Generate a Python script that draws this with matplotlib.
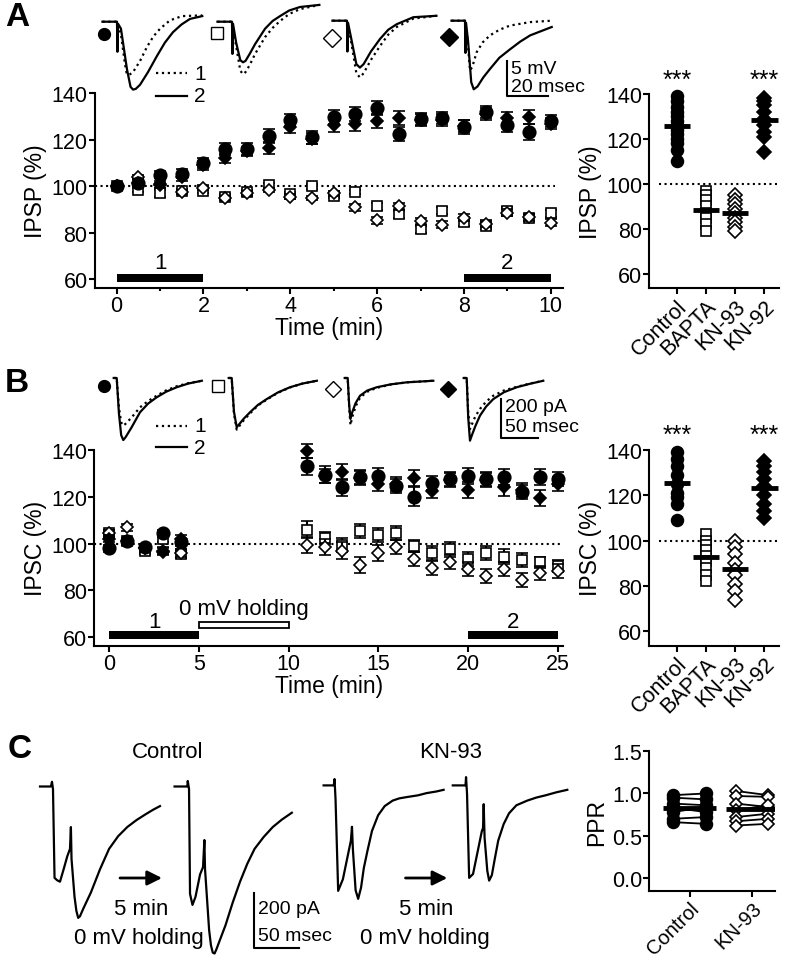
import numpy as np
import matplotlib
matplotlib.use("Agg")
import matplotlib.pyplot as plt
from matplotlib.ticker import MultipleLocator

plt.rcParams["font.family"] = ["Liberation Sans", "DejaVu Sans"]
plt.rcParams["font.size"] = 15
plt.rcParams["axes.linewidth"] = 1.5

# -------------------------------
# Data : panel A time course (IPSP, % of baseline)
# -------------------------------
time_a = [0, 0.5, 1, 1.5, 2, 2.5, 3, 3.5, 4, 4.5, 5,
          5.5, 6, 6.5, 7, 7.5, 8, 8.5, 9, 9.5, 10]
ipsp_control = [100, 101.5, 105, 105.5, 110, 116, 116, 121.5, 128.5, 121, 130,
                131, 133.5, 122.5, 129, 129.5, 125.5, 132, 126.5, 123.5, 128]
ipsp_control_sem = [1, 1.5, 1.5, 2, 2, 2.5, 2.5, 3, 2.5, 3, 3,
                    3, 3, 3, 2.5, 2.5, 3, 2.5, 3, 3.5, 2.5]
ipsp_kn92 = [100, 101.5, 101, 104, 109, 112, 115, 116.5, 125.5, 120.5, 126.5,
             127, 128, 129.5, 128.5, 128.5, 126, 131, 129.5, 130, 127]
ipsp_kn92_sem = [1, 1.5, 1.5, 1.5, 2, 2, 2, 2.5, 2.5, 2.5, 3,
                 3, 3, 3, 2.5, 2.5, 2.5, 2.5, 2.5, 3, 2.5]
ipsp_bapta = [100, 98.5, 97, 98, 98, 95.5, 97.5, 100.5, 96.5, 100, 96,
              97.5, 91.5, 88, 81.5, 89.5, 84.6, 83, 89.5, 86.5, 88.5]
ipsp_bapta_sem = [1, 1, 1.5, 1, 1, 1, 1, 1, 1, 1, 1,
                  1, 1.5, 1.5, 1.5, 1.5, 1.5, 1.5, 1.5, 1.5, 1.5]
ipsp_kn93 = [100, 104, 100.5, 97.5, 99.5, 95, 97, 98.5, 95.5, 95, 97,
             91, 85.5, 91.5, 85, 83.5, 86.5, 84, 88.7, 86.8, 84.3]
ipsp_kn93_sem = [1, 1, 1, 1, 1, 1, 1, 1, 1, 1, 1,
                 1.5, 1.5, 1.5, 1.5, 1.5, 1.5, 1.5, 1.5, 1.5, 1.5]

# -------------------------------
# Data : panel B time course (IPSC, % of baseline)
# -------------------------------
time_b = [0, 1, 2, 3, 4, 11, 12, 13, 14, 15, 16, 17, 18, 19, 20, 21, 22, 23, 24, 25]
ipsc_control = [98, 101, 98.5, 104.5, 100.5, 133, 129.5, 124, 128.5, 129,
                124.5, 120, 126, 127.5, 129, 127.5, 128.5, 122, 128.5, 127.5]
ipsc_control_sem = [1.5, 1.5, 1.5, 1.5, 1.5, 3.5, 3.5, 3.5, 3, 3.5,
                    3, 4, 3, 3, 3.5, 3, 3.5, 3, 3.5, 3]
ipsc_kn92 = [102, 101, 98, 97, 102, 139.5, 129, 130.5, 128, 125.5,
             125.5, 128, 122.5, 127, 123, 127, 124, 123, 119.5, 125.5]
ipsc_kn92_sem = [1.5, 1.5, 1.5, 1.5, 1.5, 3, 3, 3.5, 3, 3,
                 3, 3.5, 3, 3, 3.5, 3, 3.5, 3, 3.5, 3]
ipsc_bapta = [104.5, 101, 97, 102, 95.5, 106, 102.5, 99.5, 105.5, 103.5,
              104.5, 99, 96, 97.5, 93.5, 96, 94.5, 93, 92, 90.5]
ipsc_bapta_sem = [1.5, 1.5, 1.5, 1.5, 1.5, 3.5, 2.5, 3, 3, 3,
                  3, 2.5, 3, 3, 3, 3, 3, 3, 2.5, 2.5]
ipsc_kn93 = [104.5, 107, 98, 96.5, 96, 99.5, 98.5, 97, 91, 96,
             98.5, 93.5, 89.5, 92, 89, 86, 89, 84.5, 87.5, 88.5]
ipsc_kn93_sem = [1.5, 1.5, 1.5, 1.5, 1.5, 3.5, 3.5, 3.5, 3.5, 3.5,
                 3, 3, 3, 3, 3, 3, 3, 3, 3, 3]

# recording windows (min)
window_start_a = [0, 8]
window_len_a = [2, 2]
window_start_b = [0, 20]
window_len_b = [5, 5]
holding_start_b = 5
holding_len_b = 5
window_labels = ["1", "2"]

# -------------------------------
# Data : summary scatter (right column)
# -------------------------------
groups = ["Control", "BAPTA", "KN-93", "KN-92"]
ipsp_sum_control = [139, 137, 134, 132, 130, 128, 126, 124, 122, 120, 118, 115, 110]
ipsp_sum_bapta = [97, 95, 93, 90, 87, 85, 82, 79]
ipsp_sum_kn93 = [95, 93, 91, 89, 87, 85, 83, 81, 79]
ipsp_sum_kn92 = [138, 137, 135, 132, 129, 126, 123, 121, 114]

ipsc_sum_control = [139, 136, 133, 129, 125, 121, 119, 116, 109]
ipsc_sum_bapta = [103, 100, 98, 96, 93, 91, 88, 85, 82]
ipsc_sum_kn93 = [100, 97, 94, 90, 87, 85, 81, 78, 74]
ipsc_sum_kn92 = [135, 133, 130, 127, 124, 120, 116, 113, 110]

ppr_groups = ["Control", "KN-93"]
ppr_control_before = [0.98, 0.95, 0.88, 0.83, 0.78, 0.70, 0.66]
ppr_control_after = [1.00, 0.93, 0.86, 0.78, 0.84, 0.72, 0.64]
ppr_kn93_before = [1.03, 0.97, 0.88, 0.80, 0.72, 0.67, 0.62]
ppr_kn93_after = [0.98, 0.96, 0.84, 0.86, 0.76, 0.70, 0.64]

# -------------------------------
# Data : example traces (ms, mV or pA)
# -------------------------------
# panel A (mV)
a1_t1 = [-7, 0, 1.9, 3.8, 4.6, 5.3, 6.3, 7.7, 11.1, 14.4, 17.5, 20.7, 25.5, 31.3, 41]
a1_v1 = [0, 0, -1.8, -6.0, -7.3, -7.6, -7.5, -7.2, -5.6, -3.6, -2.1, -1.0, 0.2, 0.8, 0.9]
a1_t2 = [-7, 0, 0.2, 0.5, 1.9, 4.8, 6.5, 7.7, 9, 11.1, 14.9, 19.2, 23, 26.9, 31, 35.1, 41]
a1_v2 = [0, 0, -4.3, -0.3, -1.0, -6.8, -9.3, -9.7, -9.6, -9.0, -7.2, -4.9, -3.0, -1.5,
         -0.4, 0.4, 0.8]

a2_t1 = [-7, 0, 2, 4, 5.3, 6.5, 8.5, 11.1, 15.9, 19.5, 23.1, 27.5, 32.7, 42]
a2_v1 = [0, 0, -3.5, -7.0, -7.5, -7.2, -6.2, -4.6, -2.2, -0.9, 0.1, 1.1, 1.8, 2.4]
a2_t2 = [-7, 0, 0.2, 0.5, 2, 4, 5.3, 6.5, 8.5, 11.1, 15.9, 19.5, 23.1, 27.5, 32.7, 42]
a2_v2 = [0, 0, -4.6, -0.3, -3, -5.5, -5.8, -5.6, -4.6, -3.2, -1.0, 0.1, 0.8, 1.6, 2.1, 2.4]

a3_t1 = [-7, 0, 2, 4.5, 6.2, 8, 11.5, 15.9, 19.8, 23.9, 31.9, 43]
a3_v1 = [0, 0, -3, -7.5, -8.1, -7.5, -5.6, -3.6, -2.0, -0.9, 0.3, 0.7]
a3_t2 = [-7, 0, 0.2, 0.5, 2, 4.5, 6.2, 8, 11.5, 15.9, 19.8, 23.9, 31.9, 43]
a3_v2 = [0, 0, -4.4, -0.3, -2.5, -6.2, -6.7, -6.2, -4.4, -2.6, -1.3, -0.5, 0.5, 0.7]

a4_t1 = [-6.5, 0, 1, 2.4, 3.5, 5.6, 8.5, 12, 16.5, 21.6, 31.3, 41.7]
a4_v1 = [0, 0, -2, -7.1, -6.6, -4.5, -3.1, -2.1, -1.3, -0.7, -0.2, 0]
a4_t2 = [-6.5, 0, 0.2, 0.5, 1.5, 3, 4.2, 6, 8.8, 12, 16.5, 21.6, 26.5, 31.3, 41.7]
a4_v2 = [0, 0, -4.6, -0.3, -3, -8.8, -9.8, -9.4, -8.1, -6.9, -5.3, -4.1, -3.0, -2.1, -0.9]

# panel B (pA)
b1_t = [-4, 0, 3, 6, 8.8, 12, 20, 31.2, 42, 53.5, 66, 80.3, 96, 114]
b1_v1 = [0, 0, -150, -225, -242, -232, -200, -149, -117, -90, -63, -42, -26, -14]
b1_v2 = [0, 0, -180, -290, -315, -300, -250, -174, -130, -98, -70, -47, -28, -14]

b2_t = [-4, 0, 3, 6.7, 10, 16, 24.5, 35, 46.9, 62, 78, 95, 114]
b2_v1 = [0, 0, -180, -262, -245, -215, -180, -140, -110, -75, -48, -28, -14]
b2_v2 = [0, 0, -170, -250, -235, -207, -174, -137, -107, -73, -47, -28, -14]

b3_t = [-4, 0, 2, 3.7, 6, 10.5, 16.5, 26, 38.8, 58, 79, 114.6]
b3_v1 = [0, 0, -150, -239, -200, -145, -100, -70, -50, -33, -22, -14]
b3_v2 = [0, 0, -140, -208, -175, -128, -90, -64, -47, -32, -22, -14]

b4_t = [-4, 0, 2, 4.4, 7, 11.5, 17.8, 26, 35.6, 50, 66.9, 85, 102.5]
b4_v1 = [0, 0, -170, -259, -235, -195, -157, -120, -90, -63, -45, -28, -14]
b4_v2 = [0, 0, -200, -318, -290, -245, -191, -145, -107, -72, -47, -29, -14]

# panel C (pA)
c1_t = [-12, 0, 1.2, 2.3, 4, 7, 10, 14, 18, 21, 22, 22.7, 26, 28, 30, 32, 36, 44, 54,
        64, 74, 84, 94, 104, 112, 120]
c1_v = [0, 0, 17, -9, -331, -340, -345, -300, -253, -226, -147, -263, -400, -450,
        -476, -470, -440, -384, -300, -226, -180, -147, -122, -101, -85, -71]
c2_t = [-14, 0, 0.5, 1.9, 3, 5.7, 9, 14, 17.3, 18.8, 19.5, 24, 26, 28, 30, 32, 36, 42,
        50, 58, 66, 74, 84, 94, 104, 115]
c2_v = [0, 0, 20, -9, -389, -429, -400, -319, -292, -194, -299, -520, -575, -602, -605,
        -590, -555, -503, -420, -345, -280, -226, -183, -147, -120, -95]
c3_t = [-11.2, 0, 0.8, 1.9, 4.8, 10, 18.8, 20, 21, 24, 26.8, 30, 33, 36.9, 42, 48.8,
        56, 64.8, 72, 80.8, 92.6, 102, 112.9, 120.8]
c3_v = [0, 0, 23, -49, -382, -340, -200, -150, -232, -380, -411, -370, -300, -239,
        -165, -108, -75, -55, -47, -42, -36, -28, -22, -16]
c4_t = [-14, 0, 0.6, 1.7, 4, 8.3, 17.9, 19.3, 20, 21, 24, 26, 29, 32, 36, 42, 47.9,
        56, 68, 78, 88, 100, 112]
c4_v = [0, 0, 30, -31, -335, -321, -167, -154, -68, -190, -310, -345, -325, -270,
        -200, -140, -101, -72, -55, -44, -36, -25, -16]

# ==================================================
#                LAYOUT HELPERS
# ==================================================

W, H = 792, 962
fig = plt.figure(figsize=(W / 100, H / 100), dpi=100)


def px_axes(left, top, right, bottom):
    return fig.add_axes([left / W, 1 - bottom / H, (right - left) / W, (bottom - top) / H])


def trace_axes(xa, ya, sx, sy, t_lim, v_lim):
    # (t=0, v=0) sits at pixel (xa, ya); sx px per ms, sy px per unit
    ax = px_axes(xa + t_lim[0] * sx, ya - v_lim[1] * sy,
                 xa + t_lim[1] * sx, ya - v_lim[0] * sy)
    ax.set_xlim(*t_lim)
    ax.set_ylim(*v_lim)
    ax.axis("off")
    return ax


def style(ax, labelsize=15.5):
    ax.spines["top"].set_visible(False)
    ax.spines["right"].set_visible(False)
    ax.tick_params(direction="out", length=4, width=1.5, labelsize=labelsize, pad=1)
    ax.tick_params(which="minor", direction="out", length=2.5, width=1.5)
    ax.patch.set_alpha(0)


def series(ax, t, y, err, marker, face, ms, z):
    ax.errorbar(t, y, yerr=err, fmt=marker, mfc=face, mec="black", mew=1.2, ms=ms,
                ecolor="black", elinewidth=1.5, capsize=4, capthick=1.5,
                zorder=z, clip_on=False)


def summary(ax, values, ylabel, stars):
    marks = [("o", "black", 8.5), ("s", "white", 7.5), ("D", "white", 7), ("D", "black", 7)]
    for i, (vals, (m, fc, ms)) in enumerate(zip(values, marks)):
        ax.plot([i] * len(vals), vals, ls="none", marker=m, mfc=fc, mec="black",
                mew=1.2, ms=ms, clip_on=False, zorder=3)
        ax.hlines(np.mean(vals), i - 0.45, i + 0.45, color="black", lw=3.5, zorder=4)
    for i in stars:
        ax.text(i, 146.5, "***", ha="center", va="center", fontsize=18, clip_on=False)
    ax.hlines(100, -0.6, 3.5, color="black", ls=":", lw=1.5)
    ax.set_xlim(-0.95, 3.5)
    ax.set_xticks(range(len(groups)))
    ax.set_xticklabels(groups, rotation=45, ha="right", rotation_mode="anchor")
    ax.set_yticks([60, 80, 100, 120, 140])
    ax.set_ylabel(ylabel, fontsize=16.5, labelpad=3)
    style(ax)


# ==================================================
#                PANEL A
# ==================================================

axA = px_axes(94.5, 94.3, 563, 289)
axA.set_xlim(-0.51, 10.28)
axA.set_ylim(56.3, 140)
axA.hlines(100, -0.5, 10.1, color="black", ls=":", lw=1.5, zorder=1)
series(axA, time_a, ipsp_bapta, ipsp_bapta_sem, "s", "white", 7, 3)
series(axA, time_a, ipsp_kn93, ipsp_kn93_sem, "D", "white", 6.5, 4)
series(axA, time_a, ipsp_kn92, ipsp_kn92_sem, "D", "black", 6.5, 5)
series(axA, time_a, ipsp_control, ipsp_control_sem, "o", "black", 9, 6)
for s, w, lab in zip(window_start_a, window_len_a, window_labels):
    axA.bar(s, 3.4, width=w, bottom=58.9, align="edge", color="black")
    axA.text(s + w / 2, 67.3, lab, ha="center", va="center", fontsize=16)
axA.set_xticks([0, 2, 4, 6, 8, 10])
axA.xaxis.set_minor_locator(MultipleLocator(1))
axA.set_yticks([60, 80, 100, 120, 140])
axA.set_xlabel("Time (min)", fontsize=16.5, labelpad=0)
axA.set_ylabel("IPSP (%)", fontsize=16.5, labelpad=3)
style(axA)

axA2 = px_axes(649, 95, 779, 289.3)
axA2.set_ylim(53.6, 140)
summary(axA2, [ipsp_sum_control, ipsp_sum_bapta, ipsp_sum_kn93, ipsp_sum_kn92],
        "IPSP (%)", [0, 3])

# traces A (scale: 2.08 px/ms, 7 px/mV)
anchors_a = [(117, 22.7), (232, 22.7), (347, 21.7), (465, 21.7)]
traces_a = [(a1_t1, a1_v1, a1_t2, a1_v2), (a2_t1, a2_v1, a2_t2, a2_v2),
            (a3_t1, a3_v1, a3_t2, a3_v2), (a4_t1, a4_v1, a4_t2, a4_v2)]
for (xa, ya), (t1, v1, t2, v2) in zip(anchors_a, traces_a):
    tax = trace_axes(xa, ya, 2.08, 7.0, (-9, 46), (-11, 3.5))
    tax.plot(t1, v1, color="black", ls=":", lw=1.6)
    tax.plot(t2, v2, color="black", ls="-", lw=1.6)

sbA = trace_axes(506.7, 96.7, 2.08, 7.0, (-1, 22), (-1, 6))
sbA.plot([0, 0, 20], [5, 0, 0], color="black", lw=1.5)

# ==================================================
#                PANEL B
# ==================================================

axB = px_axes(94.3, 451, 563, 646.7)
axB.set_xlim(-0.84, 25.3)
axB.set_ylim(56.4, 140)
axB.hlines(100, -0.84, 25.2, color="black", ls=":", lw=1.5, zorder=1)
series(axB, time_b, ipsc_bapta, ipsc_bapta_sem, "s", "white", 7, 3)
series(axB, time_b, ipsc_kn93, ipsc_kn93_sem, "D", "white", 6.5, 4)
series(axB, time_b, ipsc_kn92, ipsc_kn92_sem, "D", "black", 6.5, 5)
series(axB, time_b, ipsc_control, ipsc_control_sem, "o", "black", 9, 6)
for s, w, lab in zip(window_start_b, window_len_b, window_labels):
    axB.bar(s, 3.4, width=w, bottom=59.1, align="edge", color="black")
    axB.text(s + w / 2, 66.9, lab, ha="center", va="center", fontsize=16)
axB.bar(holding_start_b, 2.6, width=holding_len_b, bottom=63.8, align="edge",
        color="white", edgecolor="black", lw=1.3)
axB.text(holding_start_b + holding_len_b / 2, 72.2, "0 mV holding",
         ha="center", va="center", fontsize=16)
axB.set_xticks([0, 5, 10, 15, 20, 25])
axB.set_yticks([60, 80, 100, 120, 140])
axB.set_xlabel("Time (min)", fontsize=16.5, labelpad=0)
axB.set_ylabel("IPSC (%)", fontsize=16.5, labelpad=3)
style(axB)

axB2 = px_axes(649, 450.7, 779, 646.7)
axB2.set_ylim(53.7, 140)
summary(axB2, [ipsc_sum_control, ipsc_sum_bapta, ipsc_sum_kn93, ipsc_sum_kn92],
        "IPSC (%)", [0, 3])

# traces B (scale: 0.747 px/ms, 0.197 px/pA)
anchors_b = [(116.7, 379), (231.7, 379), (347.7, 379), (466.7, 379)]
traces_b = [(b1_t, b1_v1, b1_v2), (b2_t, b2_v1, b2_v2),
            (b3_t, b3_v1, b3_v2), (b4_t, b4_v1, b4_v2)]
for (xa, ya), (t, v1, v2) in zip(anchors_b, traces_b):
    tax = trace_axes(xa, ya, 0.747, 0.197, (-8, 120), (-340, 20))
    tax.plot(t, v1, color="black", ls=":", lw=1.6)
    tax.plot(t, v2, color="black", ls="-", lw=1.6)

sbB = trace_axes(501, 439.3, 0.747, 0.197, (-3, 55), (-10, 210))
sbB.plot([0, 0, 50], [200, 0, 0], color="black", lw=1.5)

# ==================================================
#                PANEL C
# ==================================================

# traces C (scale: 0.909 px/ms, 0.276 px/pA)
anchors_c = [(50.9, 787.5), (187.3, 787.5), (333.8, 786.4), (465.5, 786.4)]
traces_c = [(c1_t, c1_v), (c2_t, c2_v), (c3_t, c3_v), (c4_t, c4_v)]
for (xa, ya), (t, v) in zip(anchors_c, traces_c):
    tax = trace_axes(xa, ya, 0.909, 0.276, (-16, 125), (-620, 40))
    tax.plot(t, v, color="black", lw=1.6)

sbC = trace_axes(253.5, 948.9, 0.909, 0.276, (-3, 55), (-10, 210))
sbC.plot([0, 0, 50], [200, 0, 0], color="black", lw=1.5)

axC2 = px_axes(649, 752.3, 775, 892.3)
axC2.set_xlim(-0.65, 1.37)
axC2.set_ylim(-0.16, 1.5)
ppr_sets = [(ppr_control_before, ppr_control_after, "o", "black", 8.5),
            (ppr_kn93_before, ppr_kn93_after, "D", "white", 6.5)]
for i, (before, after, m, fc, ms) in enumerate(ppr_sets):
    for b, a in zip(before, after):
        axC2.plot([i - 0.26, i + 0.26], [b, a], color="black", lw=1.3, marker=m,
                  mfc=fc, mec="black", mew=1.2, ms=ms, zorder=3)
    axC2.hlines(np.mean(before + after), i - 0.42, i + 0.42, color="black", lw=3.5, zorder=4)
axC2.set_xticks([0, 1])
axC2.set_xticklabels(ppr_groups, rotation=45, ha="right", rotation_mode="anchor")
axC2.set_yticks([0.0, 0.5, 1.0, 1.5])
axC2.set_yticklabels(["0.0", "0.5", "1.0", "1.5"])
axC2.set_ylabel("PPR", fontsize=16.5, labelpad=3)
style(axC2)
axC2.tick_params(axis="x", labelsize=14.5)

# ==================================================
#                ANNOTATIONS (pixel overlay)
# ==================================================

ov = fig.add_axes([0, 0, 1, 1])
ov.set_xlim(0, W)
ov.set_ylim(H, 0)
ov.axis("off")

for lab, (x, y) in zip(["A", "B", "C"], [(17, 18), (17, 384), (20, 750)]):
    ov.text(x, y, lab, fontsize=24, fontweight="bold", ha="center", va="center")

# condition symbols beside traces
sym_a = [("o", "black", 8.5, 104, 34.5), ("s", "white", 8.5, 216.7, 34.3),
         ("D", "white", 9, 331.7, 39.3), ("D", "black", 9, 449, 38.3)]
sym_b = [("o", "black", 8.5, 104, 386.7), ("s", "white", 8.5, 218.3, 386.7),
         ("D", "white", 8.5, 333.3, 390), ("D", "black", 8.5, 448.3, 390)]
for m, fc, ms, x, y in sym_a + sym_b:
    ov.plot(x, y, marker=m, mfc=fc, mec="black", mew=1.0, ms=ms)

# 1 / 2 legends
for y1, y2 in [(74, 96.7), (426.7, 448.3)]:
    ov.plot([156, 187], [y1, y1], color="black", ls=":", lw=1.6)
    ov.plot([156, 187], [y2, y2], color="black", ls="-", lw=1.6)
    ov.text(194, y1, "1", fontsize=15, va="center")
    ov.text(194, y2, "2", fontsize=15, va="center")

# scale bar labels
ov.text(511, 69, "5 mV", fontsize=14, va="center")
ov.text(511, 88, "20 msec", fontsize=14, va="center")
ov.text(505, 408, "200 pA", fontsize=14, va="center")
ov.text(505, 428, "50 msec", fontsize=14, va="center")
ov.text(258, 910, "200 pA", fontsize=14, va="center")
ov.text(258, 937, "50 msec", fontsize=14, va="center")

# panel C labels and arrows
ov.text(168, 753, "Control", fontsize=16, ha="center", va="center")
ov.text(451, 753, "KN-93", fontsize=16, ha="center", va="center")
for x0, x1 in [(120, 162), (405.5, 447.3)]:
    ov.annotate("", xy=(x1, 879), xytext=(x0, 879),
                arrowprops=dict(arrowstyle="-|>", lw=2, color="black",
                                mutation_scale=22, shrinkA=0, shrinkB=0))
    ov.text((x0 + x1) / 2, 910, "5 min", fontsize=16, ha="center", va="center")
    ov.text((x0 + x1) / 2 - 2, 939, "0 mV holding", fontsize=16, ha="center", va="center")

fig.savefig("out.png", dpi=100)
